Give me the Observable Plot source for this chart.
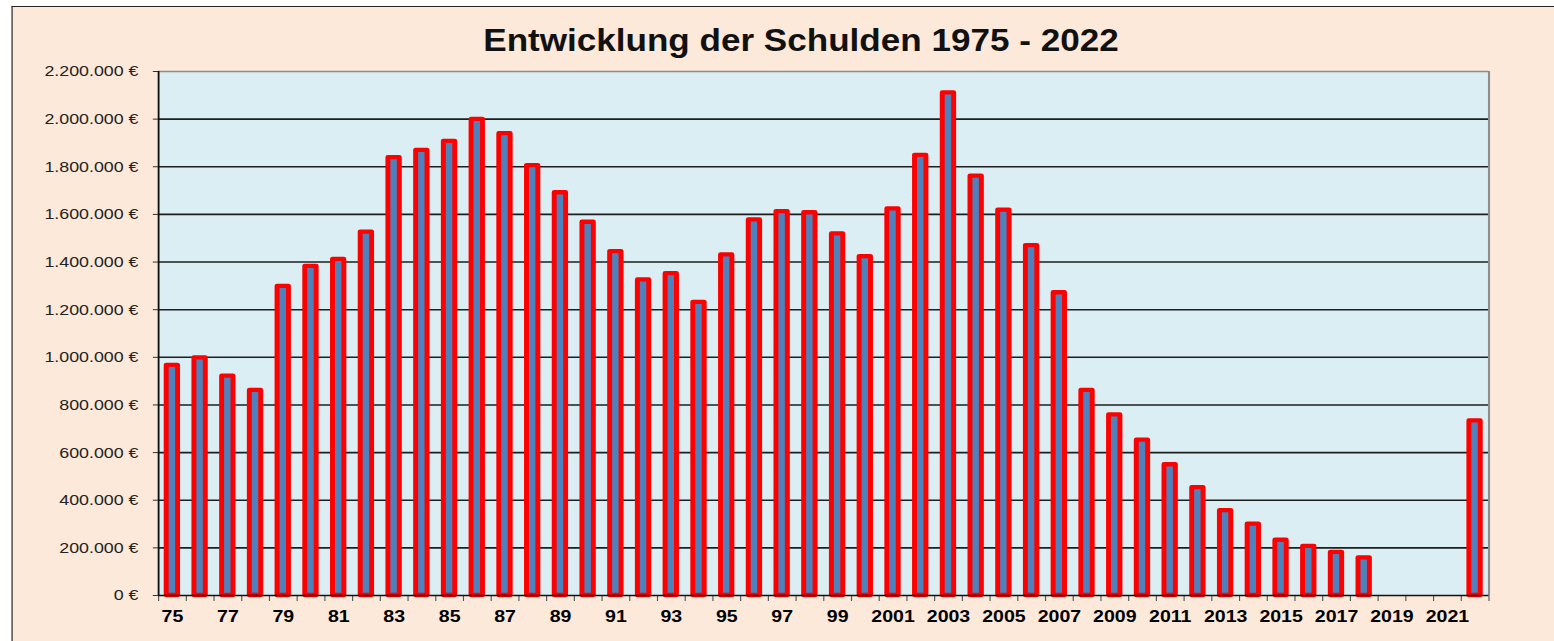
<!DOCTYPE html>
<html>
<head>
<meta charset="utf-8">
<script src="https://cdn.jsdelivr.net/npm/d3@7"></script>
<script src="https://cdn.jsdelivr.net/npm/@observablehq/plot@0.6"></script>
<style>
  html, body { margin: 0; padding: 0; background: #ffffff; overflow: hidden; width: 1554px; height: 641px; }
  #wrap { position: absolute; left: 0; top: 0; height: 641px; transform-origin: 0 0; }
  #frame { position: absolute; left: 9.5px; top: 5.5px; right: -60px; bottom: -60px; background: #FDE9D9;
           border-top: 1.6px solid #222; border-left: 1.4px solid #222; }
  #title { position: absolute; left: 0; top: 25px; width: 1393px; text-align: center;
           font-family: "Liberation Sans", Arial, sans-serif; font-weight: bold; font-size: 30.5px; line-height: 1; color: #111; }
  #chart { position: absolute; left: 0; top: 60px; }
</style>
</head>
<body>
<div id="wrap">
  <div id="frame"></div>
  <div id="title">Entwicklung der Schulden 1975 - 2022</div>
  <div id="chart"></div>
</div>
<script>
// ---- data ----
const years = [1975, 1976, 1977, 1978, 1979, 1980, 1981, 1982, 1983, 1984, 1985, 1986,
               1987, 1988, 1989, 1990, 1991, 1992, 1993, 1994, 1995, 1996, 1997, 1998,
               1999, 2000, 2001, 2002, 2003, 2004, 2005, 2006, 2007, 2008, 2009, 2010,
               2011, 2012, 2013, 2014, 2015, 2016, 2017, 2018, 2019, 2020, 2021, 2022];
const debts = [966000, 998000, 921000, 861000, 1298000, 1382000, 1411000, 1526000, 1838000, 1869000, 1907000, 1999000,
               1939000, 1805000, 1691000, 1567000, 1444000, 1325000, 1351000, 1231000, 1430000, 1577000, 1612000, 1607000,
               1518000, 1423000, 1623000, 1848000, 2110000, 1761000, 1618000, 1469000, 1271000, 861000, 758000, 652000,
               549000, 453000, 356000, 300000, 232000, 206000, 181000, 158000, 0, 0, 0, 733000];
const xLabelYears = [1975, 1977, 1979, 1981, 1983, 1985, 1987, 1989, 1991, 1993, 1995, 1997,
                     1999, 2001, 2003, 2005, 2007, 2009, 2011, 2013, 2015, 2017, 2019, 2021];
const yTicks = [0, 200000, 400000, 600000, 800000, 1000000, 1200000, 1400000, 1600000, 1800000, 2000000, 2200000];

const data = years.map((year, i) => ({year, value: debts[i]}));

// ---- layout (content is stretched horizontally like the reference) ----
const S = 1.15;
const W = 1554 / S;
document.getElementById("wrap").style.width = W + "px";
document.getElementById("wrap").style.transform = `scaleX(${S})`;

const fmtEuro = v => d3.format(",")(v).replace(/,/g, ".") + " €";
const fmtYear = y => (y < 2000 ? String(y).slice(2) : String(y));
const boundaries = years.map(y => y - 0.5).concat([years[years.length - 1] + 0.5]);
const xDomain = [years[0] - 0.5, years[years.length - 1] + 0.5];
const yMax = yTicks[yTicks.length - 1];

const chart = Plot.plot({
  width: W,
  height: 581,
  marginTop: 11,
  marginBottom: 46,
  marginLeft: 137.4,
  marginRight: W - 1294.3,
  x: {type: "linear", domain: xDomain, label: null},
  y: {domain: [0, yMax], label: null},
  style: {background: "transparent", fontFamily: "'Liberation Sans', Arial, sans-serif", overflow: "visible"},
  marks: [
    Plot.frame({fill: "#DAEEF3", stroke: null}),
    Plot.ruleY(yTicks.filter(v => v > 0 && v < yMax), {stroke: "#1e1e1e", strokeWidth: 1.6}),
    Plot.ruleY([yMax], {stroke: "#8c8c8c", strokeWidth: 1.6}),
    Plot.ruleX([xDomain[1]], {stroke: "#8c8c8c", strokeWidth: 1.8}),
    Plot.rectY(data.filter(d => d.value > 0), {
      x1: d => d.year - 0.5, x2: d => d.year + 0.5, y1: 0, y2: "value",
      insetLeft: 7.1, insetRight: 7.1,
      fill: "#4F81BD", stroke: "#FF0000", strokeWidth: 4.3, strokeLinejoin: "round"
    }),
    Plot.axisY({ticks: yTicks, tickFormat: fmtEuro, tickSize: 4.5, tickPadding: 13,
                fontSize: 15.5, fill: "#222", stroke: "#333"}),
    Plot.axisX({ticks: boundaries, tickFormat: () => "", tickSize: 6, stroke: "#555"}),
    Plot.axisX({ticks: xLabelYears, tickFormat: fmtYear, tickSize: 0, tickPadding: 14,
                fontSize: 17, fontWeight: "bold", fill: "#000"}),
    Plot.ruleX([xDomain[0]], {stroke: "#111", strokeWidth: 1.6}),
    Plot.ruleY([0], {stroke: "#111", strokeWidth: 1.6})
  ]
});
document.getElementById("chart").appendChild(chart);
</script>
</body>
</html>
